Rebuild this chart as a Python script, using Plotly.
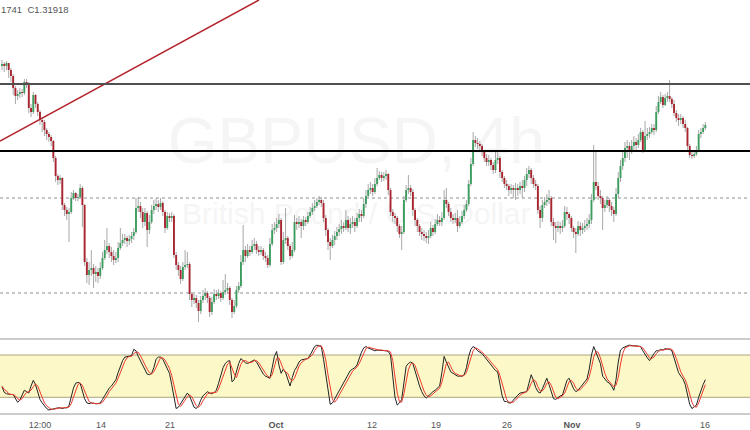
import plotly.graph_objects as go

# ---------------- data (GBPUSD 4h) ----------------
tick_pos = [17.0, 44.3, 75.2, 122.7, 165.7, 194.4, 226.2, 255.3, 284.8, 314.8]
tick_text = ["12:00", "14", "21", "<b>Oct</b>", "12", "19", "26", "<b>Nov</b>", "9", "16"]

open_ = [
 1.3334,1.3336,1.3334,1.3337,1.3330,1.3324,1.3312,1.3304,1.3306,1.3308,
 1.3307,1.3318,1.3317,1.3292,1.3288,1.3305,1.3296,1.3288,1.3280,1.3278,
 1.3270,1.3266,1.3263,1.3259,1.3242,1.3224,1.3220,1.3222,1.3195,1.3190,
 1.3186,1.3188,1.3202,1.3207,1.3202,1.3203,1.3212,1.3195,1.3138,1.3125,
 1.3130,1.3132,1.3126,1.3128,1.3124,1.3132,1.3142,1.3150,1.3154,1.3148,
 1.3144,1.3140,1.3142,1.3152,1.3157,1.3160,1.3162,1.3159,1.3161,1.3164,
 1.3168,1.3192,1.3194,1.3188,1.3178,1.3187,1.3170,1.3178,1.3190,1.3194,
 1.3196,1.3193,1.3197,1.3188,1.3172,1.3184,1.3182,1.3184,1.3145,1.3135,
 1.3130,1.3121,1.3133,1.3135,1.3136,1.3106,1.3100,1.3102,1.3097,1.3089,
 1.3100,1.3104,1.3107,1.3102,1.3088,1.3098,1.3106,1.3104,1.3107,1.3102,
 1.3108,1.3110,1.3112,1.3100,1.3088,1.3094,1.3110,1.3114,1.3138,1.3150,
 1.3144,1.3150,1.3148,1.3154,1.3156,1.3150,1.3148,1.3150,1.3144,1.3142,
 1.3135,1.3156,1.3170,1.3172,1.3176,1.3180,1.3138,1.3160,1.3162,1.3154,
 1.3144,1.3150,1.3178,1.3176,1.3178,1.3174,1.3180,1.3178,1.3184,1.3188,
 1.3192,1.3194,1.3198,1.3200,1.3197,1.3182,1.3170,1.3158,1.3154,1.3160,
 1.3164,1.3168,1.3171,1.3174,1.3172,1.3180,1.3172,1.3176,1.3178,1.3174,
 1.3182,1.3186,1.3184,1.3196,1.3204,1.3210,1.3212,1.3208,1.3216,1.3222,
 1.3225,1.3222,1.3224,1.3226,1.3210,1.3188,1.3184,1.3182,1.3174,1.3166,
 1.3168,1.3200,1.3210,1.3212,1.3208,1.3190,1.3180,1.3174,1.3168,1.3166,
 1.3164,1.3162,1.3164,1.3172,1.3168,1.3176,1.3180,1.3178,1.3182,1.3200,
 1.3196,1.3188,1.3182,1.3180,1.3182,1.3174,1.3178,1.3184,1.3190,1.3196,
 1.3216,1.3236,1.3260,1.3257,1.3256,1.3254,1.3248,1.3242,1.3238,1.3240,
 1.3235,1.3230,1.3240,1.3242,1.3228,1.3222,1.3216,1.3214,1.3210,1.3212,
 1.3210,1.3212,1.3210,1.3214,1.3212,1.3220,1.3226,1.3230,1.3222,1.3216,
 1.3214,1.3190,1.3182,1.3195,1.3198,1.3200,1.3202,1.3178,1.3174,1.3172,
 1.3174,1.3172,1.3174,1.3188,1.3186,1.3182,1.3172,1.3168,1.3166,1.3174,
 1.3170,1.3172,1.3174,1.3176,1.3180,1.3200,1.3218,1.3214,1.3204,1.3202,
 1.3192,1.3195,1.3200,1.3194,1.3190,1.3186,1.3206,1.3222,1.3234,1.3242,
 1.3252,1.3254,1.3250,1.3254,1.3258,1.3255,1.3260,1.3268,1.3250,1.3264,
 1.3266,1.3268,1.3272,1.3270,1.3288,1.3298,1.3303,1.3295,1.3302,1.3304,
 1.3301,1.3296,1.3287,1.3282,1.3280,1.3282,1.3276,1.3272,1.3254,1.3245,
 1.3244,1.3246,1.3250,1.3266,1.3268,1.3272]

high = [
 1.3340,1.3338,1.3339,1.3337,1.3332,1.3326,1.3314,1.3310,1.3312,1.3311,
 1.3321,1.3321,1.3318,1.3296,1.3308,1.3306,1.3298,1.3290,1.3283,1.3280,
 1.3272,1.3268,1.3265,1.3260,1.3244,1.3226,1.3225,1.3223,1.3197,1.3193,
 1.3192,1.3208,1.3210,1.3208,1.3206,1.3216,1.3214,1.3196,1.3142,1.3138,
 1.3150,1.3136,1.3134,1.3132,1.3138,1.3148,1.3160,1.3172,1.3157,1.3153,
 1.3150,1.3148,1.3158,1.3172,1.3166,1.3166,1.3164,1.3165,1.3168,1.3172,
 1.3202,1.3203,1.3198,1.3192,1.3192,1.3189,1.3185,1.3195,1.3200,1.3202,
 1.3200,1.3202,1.3199,1.3190,1.3188,1.3187,1.3188,1.3186,1.3148,1.3138,
 1.3134,1.3138,1.3150,1.3148,1.3138,1.3108,1.3106,1.3105,1.3100,1.3104,
 1.3110,1.3112,1.3109,1.3104,1.3103,1.3111,1.3110,1.3111,1.3109,1.3120,
 1.3126,1.3117,1.3114,1.3102,1.3100,1.3114,1.3118,1.3145,1.3175,1.3154,
 1.3156,1.3154,1.3160,1.3162,1.3159,1.3154,1.3154,1.3152,1.3148,1.3145,
 1.3162,1.3176,1.3178,1.3182,1.3186,1.3182,1.3168,1.3192,1.3164,1.3156,
 1.3158,1.3185,1.3182,1.3184,1.3181,1.3184,1.3183,1.3188,1.3193,1.3197,
 1.3200,1.3202,1.3204,1.3203,1.3200,1.3185,1.3172,1.3162,1.3165,1.3169,
 1.3173,1.3176,1.3180,1.3178,1.3190,1.3184,1.3182,1.3184,1.3182,1.3187,
 1.3191,1.3190,1.3202,1.3210,1.3216,1.3218,1.3216,1.3222,1.3232,1.3229,
 1.3228,1.3228,1.3230,1.3227,1.3212,1.3191,1.3187,1.3184,1.3176,1.3174,
 1.3204,1.3215,1.3225,1.3215,1.3211,1.3192,1.3182,1.3176,1.3172,1.3170,
 1.3168,1.3170,1.3178,1.3175,1.3181,1.3186,1.3184,1.3188,1.3210,1.3212,
 1.3198,1.3192,1.3186,1.3187,1.3190,1.3184,1.3189,1.3195,1.3200,1.3220,
 1.3242,1.3268,1.3264,1.3262,1.3259,1.3256,1.3250,1.3246,1.3245,1.3242,
 1.3238,1.3248,1.3248,1.3244,1.3230,1.3224,1.3220,1.3216,1.3216,1.3215,
 1.3217,1.3216,1.3218,1.3220,1.3224,1.3232,1.3234,1.3232,1.3225,1.3220,
 1.3216,1.3194,1.3200,1.3203,1.3206,1.3210,1.3204,1.3182,1.3178,1.3179,
 1.3178,1.3180,1.3194,1.3193,1.3188,1.3184,1.3174,1.3172,1.3179,1.3178,
 1.3177,1.3180,1.3182,1.3186,1.3206,1.3255,1.3250,1.3218,1.3210,1.3204,
 1.3200,1.3204,1.3202,1.3198,1.3193,1.3212,1.3228,1.3240,1.3248,1.3258,
 1.3260,1.3258,1.3260,1.3264,1.3262,1.3266,1.3272,1.3270,1.3279,1.3272,
 1.3273,1.3276,1.3276,1.3294,1.3304,1.3308,1.3305,1.3306,1.3308,1.3320,
 1.3303,1.3300,1.3290,1.3286,1.3286,1.3284,1.3280,1.3273,1.3256,1.3248,
 1.3250,1.3254,1.3270,1.3272,1.3276,1.3278]

low = [
 1.3330,1.3328,1.3330,1.3322,1.3318,1.3305,1.3296,1.3300,1.3302,1.3303,
 1.3305,1.3312,1.3287,1.3283,1.3286,1.3292,1.3284,1.3275,1.3268,1.3264,
 1.3260,1.3258,1.3254,1.3238,1.3218,1.3215,1.3216,1.3190,1.3184,1.3180,
 1.3158,1.3186,1.3200,1.3199,1.3199,1.3201,1.3173,1.3134,1.3117,1.3115,
 1.3124,1.3112,1.3118,1.3117,1.3121,1.3130,1.3140,1.3146,1.3142,1.3138,
 1.3135,1.3137,1.3138,1.3150,1.3154,1.3156,1.3153,1.3155,1.3157,1.3160,
 1.3166,1.3188,1.3182,1.3172,1.3174,1.3153,1.3166,1.3176,1.3186,1.3190,
 1.3188,1.3190,1.3184,1.3167,1.3170,1.3178,1.3178,1.3142,1.3130,1.3124,
 1.3116,1.3119,1.3130,1.3132,1.3100,1.3093,1.3096,1.3092,1.3078,1.3086,
 1.3097,1.3100,1.3097,1.3083,1.3085,1.3096,1.3100,1.3101,1.3098,1.3100,
 1.3105,1.3106,1.3095,1.3082,1.3086,1.3092,1.3107,1.3112,1.3135,1.3138,
 1.3142,1.3144,1.3146,1.3150,1.3146,1.3144,1.3145,1.3140,1.3138,1.3132,
 1.3133,1.3154,1.3166,1.3168,1.3172,1.3135,1.3136,1.3156,1.3150,1.3140,
 1.3142,1.3148,1.3170,1.3172,1.3162,1.3170,1.3174,1.3176,1.3182,1.3185,
 1.3189,1.3192,1.3195,1.3193,1.3178,1.3164,1.3150,1.3140,1.3152,1.3155,
 1.3160,1.3164,1.3166,1.3168,1.3170,1.3168,1.3166,1.3172,1.3168,1.3172,
 1.3178,1.3178,1.3182,1.3192,1.3202,1.3206,1.3204,1.3206,1.3214,1.3220,
 1.3218,1.3219,1.3220,1.3205,1.3184,1.3178,1.3176,1.3168,1.3162,1.3150,
 1.3166,1.3198,1.3206,1.3204,1.3184,1.3174,1.3168,1.3164,1.3160,1.3159,
 1.3157,1.3156,1.3162,1.3164,1.3166,1.3174,1.3174,1.3174,1.3180,1.3192,
 1.3184,1.3178,1.3176,1.3177,1.3168,1.3172,1.3176,1.3181,1.3188,1.3194,
 1.3214,1.3234,1.3253,1.3251,1.3250,1.3244,1.3238,1.3234,1.3234,1.3230,
 1.3226,1.3227,1.3236,1.3222,1.3218,1.3212,1.3210,1.3204,1.3206,1.3202,
 1.3200,1.3204,1.3206,1.3202,1.3208,1.3214,1.3222,1.3216,1.3212,1.3210,
 1.3186,1.3172,1.3178,1.3192,1.3194,1.3196,1.3174,1.3160,1.3157,1.3168,
 1.3166,1.3168,1.3172,1.3180,1.3176,1.3168,1.3162,1.3147,1.3164,1.3164,
 1.3166,1.3168,1.3170,1.3172,1.3176,1.3198,1.3210,1.3200,1.3196,1.3170,
 1.3188,1.3192,1.3188,1.3184,1.3178,1.3184,1.3202,1.3218,1.3230,1.3238,
 1.3242,1.3240,1.3246,1.3250,1.3250,1.3252,1.3258,1.3247,1.3248,1.3260,
 1.3262,1.3266,1.3265,1.3268,1.3286,1.3296,1.3292,1.3294,1.3298,1.3298,
 1.3292,1.3284,1.3278,1.3274,1.3276,1.3272,1.3268,1.3250,1.3242,1.3241,
 1.3242,1.3244,1.3248,1.3262,1.3266,1.3270]

close = [
 1.3336,1.3334,1.3337,1.3330,1.3324,1.3312,1.3304,1.3306,1.3308,1.3307,
 1.3318,1.3317,1.3292,1.3288,1.3305,1.3296,1.3288,1.3280,1.3278,1.3270,
 1.3266,1.3263,1.3259,1.3242,1.3224,1.3220,1.3222,1.3195,1.3190,1.3186,
 1.3188,1.3202,1.3207,1.3202,1.3203,1.3212,1.3195,1.3138,1.3125,1.3130,
 1.3132,1.3126,1.3128,1.3124,1.3132,1.3142,1.3150,1.3154,1.3148,1.3144,
 1.3140,1.3142,1.3152,1.3157,1.3160,1.3162,1.3159,1.3161,1.3164,1.3168,
 1.3192,1.3194,1.3188,1.3178,1.3187,1.3170,1.3178,1.3190,1.3194,1.3196,
 1.3193,1.3197,1.3188,1.3172,1.3184,1.3182,1.3184,1.3145,1.3135,1.3130,
 1.3121,1.3133,1.3135,1.3136,1.3106,1.3100,1.3102,1.3097,1.3089,1.3100,
 1.3104,1.3107,1.3102,1.3088,1.3098,1.3106,1.3104,1.3107,1.3102,1.3108,
 1.3110,1.3112,1.3100,1.3088,1.3094,1.3110,1.3114,1.3138,1.3150,1.3144,
 1.3150,1.3148,1.3154,1.3156,1.3150,1.3148,1.3150,1.3144,1.3142,1.3135,
 1.3156,1.3170,1.3172,1.3176,1.3180,1.3138,1.3160,1.3162,1.3154,1.3144,
 1.3150,1.3178,1.3176,1.3178,1.3174,1.3180,1.3178,1.3184,1.3188,1.3192,
 1.3194,1.3198,1.3200,1.3197,1.3182,1.3170,1.3158,1.3154,1.3160,1.3164,
 1.3168,1.3171,1.3174,1.3172,1.3180,1.3172,1.3176,1.3178,1.3174,1.3182,
 1.3186,1.3184,1.3196,1.3204,1.3210,1.3212,1.3208,1.3216,1.3222,1.3225,
 1.3222,1.3224,1.3226,1.3210,1.3188,1.3184,1.3182,1.3174,1.3166,1.3168,
 1.3200,1.3210,1.3212,1.3208,1.3190,1.3180,1.3174,1.3168,1.3166,1.3164,
 1.3162,1.3164,1.3172,1.3168,1.3176,1.3180,1.3178,1.3182,1.3200,1.3196,
 1.3188,1.3182,1.3180,1.3182,1.3174,1.3178,1.3184,1.3190,1.3196,1.3216,
 1.3236,1.3260,1.3257,1.3256,1.3254,1.3248,1.3242,1.3238,1.3240,1.3235,
 1.3230,1.3240,1.3242,1.3228,1.3222,1.3216,1.3214,1.3210,1.3212,1.3210,
 1.3212,1.3210,1.3214,1.3212,1.3220,1.3226,1.3230,1.3222,1.3216,1.3214,
 1.3190,1.3182,1.3195,1.3198,1.3200,1.3202,1.3178,1.3174,1.3172,1.3174,
 1.3172,1.3174,1.3188,1.3186,1.3182,1.3172,1.3168,1.3166,1.3174,1.3170,
 1.3172,1.3174,1.3176,1.3180,1.3200,1.3218,1.3214,1.3204,1.3202,1.3192,
 1.3195,1.3200,1.3194,1.3190,1.3186,1.3206,1.3222,1.3234,1.3242,1.3252,
 1.3254,1.3250,1.3254,1.3258,1.3255,1.3260,1.3268,1.3250,1.3264,1.3266,
 1.3268,1.3272,1.3270,1.3288,1.3298,1.3303,1.3295,1.3302,1.3304,1.3301,
 1.3296,1.3287,1.3282,1.3280,1.3282,1.3276,1.3272,1.3254,1.3245,1.3244,
 1.3246,1.3250,1.3266,1.3268,1.3272,1.3275]

stoch_k = [
 35,27,25,24,24,24,18,13,16,24, 30,28,26,36,44,38,26,17,12,8,
 4,2,3,4,5,5,5,4,5,5, 8,20,33,40,41,40,30,18,12,11,
 12,11,11,11,12,17,22,28,33,36, 40,45,55,65,72,77,78,78,79,88,
 86,78,72,66,60,53,52,54,62,74, 77,77,74,68,60,54,38,20,4,6,
 11,16,22,26,22,14,6,4,8,16, 22,25,28,26,25,27,30,40,52,62,
 68,71,72,42,45,58,68,75,72,69, 68,70,72,73,70,64,58,53,50,48,
 47,62,78,85,66,54,60,55,46,36, 48,58,63,70,73,74,75,75,80,86,
 92,94,93,92,74,52,30,10,12,18, 22,28,36,42,46,54,58,60,62,66,
 76,84,90,92,90,89,88,86,87,87, 86,86,86,85,80,50,20,9,12,17,
 45,64,68,70,68,56,45,36,28,22, 19,22,26,28,30,33,36,55,78,70,
 62,56,54,52,50,50,50,52,62,78, 88,92,90,86,84,82,78,74,70,66,
 62,58,56,40,22,14,14,12,12,16, 20,23,26,27,28,28,40,52,44,34,
 28,26,32,40,47,38,26,18,17,20, 22,23,34,44,47,40,32,28,30,34,
 38,42,46,60,80,92,84,75,68,50, 45,42,40,36,30,45,70,87,90,92,
 93,94,93,93,93,92,92,86,80,76, 72,78,82,86,86,88,87,89,89,88,
 86,76,64,55,50,46,38,24,10,4, 6,9,20,30,38,45]

stoch_d = [
 36,31,29,25,24,24,22,18,16,18, 23,27,28,30,35,39,36,27,18,12,
 8,5,3,3,4,5,5,5,5,5, 6,11,20,31,38,40,37,29,20,14,
 12,11,11,11,11,13,17,22,28,32, 36,40,47,55,64,71,76,78,78,82,
 84,84,79,72,66,60,55,53,56,63, 71,76,76,73,67,61,51,37,21,10,
 7,11,16,21,23,21,14,8,6,9, 15,21,25,26,26,26,27,32,41,51,
 61,67,70,62,53,48,57,67,72,72, 70,69,70,72,72,69,64,58,54,50,
 48,52,62,75,76,68,60,56,54,46, 43,47,56,64,69,72,74,75,77,80,
 86,91,93,93,86,73,52,31,17,13, 17,23,29,35,41,47,53,57,60,63,
 68,75,83,89,91,90,89,88,87,87, 87,86,86,86,84,72,50,26,14,13,
 25,42,59,67,69,65,56,46,36,29, 23,21,22,25,28,30,33,41,56,68,
 70,63,57,54,52,51,50,51,55,64, 76,86,90,89,87,84,81,78,74,70,
 66,62,59,51,39,25,17,13,13,13, 16,20,23,25,27,28,32,40,45,43,
 35,29,29,33,40,42,37,27,20,18, 20,22,26,34,42,44,40,33,30,31,
 34,38,42,49,62,77,85,84,76,64, 54,46,42,39,35,37,48,67,82,90,
 92,93,93,93,93,93,92,90,86,81, 76,75,77,82,85,87,87,88,88,89,
 88,83,75,65,56,50,45,36,24,13, 7,6,12,20,29,38]

resistance_level = 1.3316
support_level = 1.3249
dotted_levels = [1.3202, 1.3107]
trend_x = [-0.9, 115.1]
trend_y = [1.3259, 1.3400]
stoch_bands = [80, 20]

# ---------------- figure ----------------
idx = list(range(len(close)))
FONT = "Liberation Sans"
GREEN = "#3d9d5f"
RED = "#a8242f"

wick_x, wick_y = [], []
up_x, up_y, dn_x, dn_y = [], [], [], []
for i in idx:
    wick_x += [i, i, None]
    wick_y += [low[i], high[i], None]
    if close[i] >= open_[i]:
        up_x += [i, i, None]
        up_y += [open_[i], close[i], None]
    else:
        dn_x += [i, i, None]
        dn_y += [open_[i], close[i], None]

fig = go.Figure()
fig.add_trace(go.Scatter(x=wick_x, y=wick_y, mode="lines",
                         line=dict(color="#a8a8a8", width=1), hoverinfo="skip"))
fig.add_trace(go.Scatter(x=up_x, y=up_y, mode="lines",
                         line=dict(color=GREEN, width=1.9), hoverinfo="skip"))
fig.add_trace(go.Scatter(x=dn_x, y=dn_y, mode="lines",
                         line=dict(color=RED, width=1.9), hoverinfo="skip"))
fig.add_trace(go.Scatter(x=trend_x, y=trend_y, mode="lines",
                         line=dict(color="#b3242c", width=1.5), hoverinfo="skip"))
fig.add_trace(go.Scatter(x=idx, y=stoch_k, mode="lines", yaxis="y2",
                         line=dict(color="#222222", width=1), hoverinfo="skip"))
fig.add_trace(go.Scatter(x=idx, y=stoch_d, mode="lines", yaxis="y2",
                         line=dict(color="#f03a2e", width=1), hoverinfo="skip"))

shapes = []
# watermark (below everything)
shapes.append(dict(type="rect", xref="paper", yref="paper", x0=0.17, x1=0.78,
                   y0=0.62, y1=0.73, line=dict(width=0), fillcolor="rgba(0,0,0,0)",
                   layer="below",
                   label=dict(text="GBPUSD, 4h", textposition="middle center",
                              font=dict(size=64, color="#f5f5f5", family=FONT))))
shapes.append(dict(type="rect", xref="paper", yref="paper", x0=0.17, x1=0.78,
                   y0=0.46, y1=0.525, line=dict(width=0), fillcolor="rgba(0,0,0,0)",
                   layer="below",
                   label=dict(text="British Pound / U.S. Dollar", textposition="middle center",
                              font=dict(size=30, color="#f5f5f5", family=FONT))))
# stochastic band
shapes.append(dict(type="rect", xref="paper", yref="y2", x0=0, x1=1,
                   y0=stoch_bands[1], y1=stoch_bands[0], fillcolor="#fcf8c8",
                   line=dict(width=0), layer="below"))
for b in stoch_bands:
    shapes.append(dict(type="line", xref="paper", yref="y2", x0=0, x1=1, y0=b, y1=b,
                       line=dict(color="#aaa57e", width=1), layer="below"))
for d in (0, 1):
    shapes.append(dict(type="line", xref="paper", yref="y2 domain", x0=0, x1=1, y0=d, y1=d,
                       line=dict(color="#999999", width=1), layer="below"))
# horizontal price levels
for lv in dotted_levels:
    shapes.append(dict(type="line", xref="paper", yref="y", x0=0, x1=1, y0=lv, y1=lv,
                       line=dict(color="#8c8c8c", width=1, dash="dot"), layer="below"))
shapes.append(dict(type="line", xref="paper", yref="y", x0=0, x1=1,
                   y0=resistance_level, y1=resistance_level,
                   line=dict(color="#505050", width=2)))
shapes.append(dict(type="line", xref="paper", yref="y", x0=0, x1=1,
                   y0=support_level, y1=support_level,
                   line=dict(color="#000000", width=2)))

fig.update_layout(
    width=750, height=430,
    margin=dict(l=0, r=0, t=0, b=16),
    paper_bgcolor="white", plot_bgcolor="white",
    showlegend=False,
    shapes=shapes,
    xaxis=dict(range=[-0.9, 335], anchor="y2", tickmode="array",
               tickvals=tick_pos, ticktext=tick_text, showgrid=False,
               zeroline=False, showline=False, ticks="", ticklabelstandoff=4,
               tickfont=dict(size=9, color="#555555", family=FONT)),
    yaxis=dict(domain=[76 / 414, 1], range=[1.3062, 1.3400], visible=False),
    yaxis2=dict(domain=[0, 75 / 414], range=[-3.7, 102.7], visible=False),
    annotations=[dict(text="1741  C1.31918", xref="paper", yref="paper",
                      x=0, y=1 - 10 / 414, xanchor="left", yanchor="middle",
                      showarrow=False, xshift=-1,
                      font=dict(size=9.5, color="#555555", family=FONT))],
)

fig.write_html("out.html", config={"displayModeBar": False},
               post_script="document.body.style.margin='0';document.body.style.overflow='hidden';")
